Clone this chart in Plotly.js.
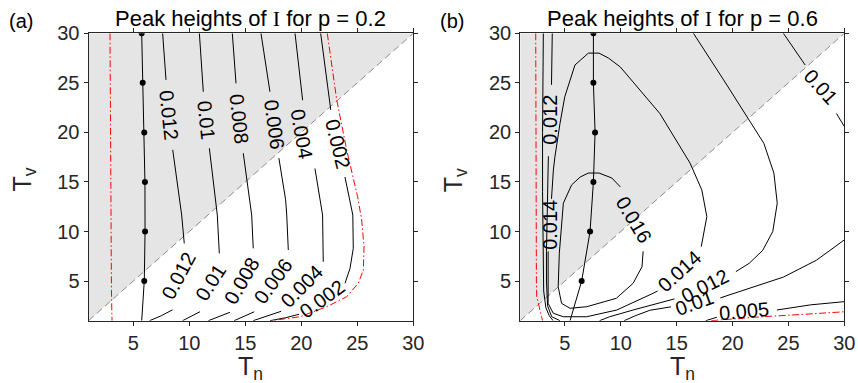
<!DOCTYPE html>
<html><head><meta charset="utf-8">
<script src="https://cdn.plot.ly/plotly-3.0.1.min.js"></script>
<style>html,body{margin:0;padding:0;background:#fff}</style>
</head><body><div id="chart" style="width:858px;height:383px"></div>
<script>
// ================= DATA =================
const tickVals = [5, 10, 15, 20, 25, 30];
const pValues = ['0.2', '0.6'];
const panelTags = ['(a)', '(b)'];

// shaded region Tv > Tn and diagonal
const grayX = [1, 1, 30, 1];
const grayY = [1, 30, 30, 1];
const diagX = [1, 30];
const diagY = [1, 30];

// ---------- panel (a), p = 0.2 ----------
const aOptX = [5.75, 5.84, 5.98, 6.04, 6.05, 5.98, 5.75];
const aOptY = [30, 25, 20, 15, 10, 5, 1];
const aDotX = [5.75, 5.84, 5.98, 6.04, 6.05, 5.98];
const aDotY = [30, 25, 20, 15, 10, 5];

const aRedLeftX = [2.92, 2.95, 3.0, 3.05, 3.1];
const aRedLeftY = [30, 20, 10, 4, 1];
const aRedRightX = [22.32, 23.16, 24.05, 25.03, 25.39, 25.6, 25.54, 25.09, 24.05, 22.27, 19.88, 17.3];
const aRedRightY = [30, 23.3, 18.24, 13.5, 11.17, 8.47, 6.12, 4.78, 3.42, 2.41, 1.4, 1];

const a012X = [7.62, 7.92, null, 8.52, 9.17, 9.32, 9.55, null, 8.5, 7.5, 6.45];
const a012Y = [30, 25.3, null, 18.24, 13.2, 11.66, 8.8, null, 2.1, 1.5, 1];
const a010X = [10.9, 11.25, null, 11.79, 12.3, 12.5, 12.68, null, 10.96, 9.4];
const a010Y = [30, 24.1, null, 18.4, 13.2, 11.66, 7.8, null, 1.91, 1];
const a008X = [13.84, 14.17, null, 14.82, 15.42, 15.57, 15.71, null, 13.63, 11.7];
const a008Y = [30, 24.95, null, 17.9, 13.2, 11.66, 8.3, null, 1.85, 1];
const a006X = [16.4, 17.2, null, 18.0, 18.6, 18.7, 18.84, null, 15.8, 14.0];
const a006Y = [30, 24.1, null, 17.4, 13.2, 11.66, 8.13, null, 1.9, 1];
const a004X = [19.44, 20.12, null, 21.22, 21.67, 21.9, 21.96, null, 18.2, 15.7];
const a004Y = [30, 23.25, null, 16.36, 13.2, 11.66, 6.95, null, 1.95, 1];
const a002X = [21.73, 22.63, null, 23.9, 24.6, 24.64, 24.35, 23.9, null, 19.8, 18.6, 17.2];
const a002Y = [30, 22.27, null, 15.5, 11.66, 8.3, 6.28, 4.77, null, 1.65, 1.3, 1];

const aLabText = ['0.012', '0.01', '0.008', '0.006', '0.004', '0.002',
                  '0.012', '0.01', '0.008', '0.006', '0.004', '0.002'];
const aLabX = [8.22, 11.52, 14.49, 17.6, 20.0, 23.27, 9.04, 11.85, 14.68, 17.5, 20.08, 21.85];
const aLabY = [21.7, 21.25, 21.4, 20.75, 19.8, 18.85, 5.48, 4.85, 5.0, 5.0, 4.46, 3.2];

// ---------- panel (b), p = 0.6 ----------
const bOptX = [7.55, 7.55, 7.7, 7.55, 7.25, 6.5, 5.46];
const bOptY = [30, 25, 20, 15, 10, 5, 1];
const bDotX = [7.55, 7.55, 7.7, 7.55, 7.25, 6.5];
const bDotY = [30, 25, 20, 15, 10, 5];

const bRedLeftX = [2.39, 2.39, 2.4, 2.45, 2.48, 2.77, 3.0];
const bRedLeftY = [30, 20, 10, 5, 3.42, 2.08, 1];
const bRedBottomX = [18.1, 22, 26, 30];
const bRedBottomY = [1, 1.35, 1.62, 1.9];

const b016X = [12.0, 11.9, 11.1, 9.6, 6.95, 5.46, 4.7, 4.4, 4.5, 4.86, 5.6, 6.37, 7.1, 8.05, 9.2, 9.96];
const b016Y = [8.0, 6.45, 4.77, 3.26, 2.41, 2.25, 2.75, 4.43, 7.8, 12.85, 14.7, 15.5, 15.9, 15.9, 15.4, 14.5];

const b014X = [3.5, 3.5, 3.5, 3.96, 4.86, 6.95, 9.64, 12.9, 13.3, null,
               17.2, 17.5, 17.7, 17.25, 16.2, 13.5, 11.72, 9.96, 8.9, 8.05, 7.1, 5.9, 4.99, 4.56, 4.1, 3.97, 3.8];
const b014Y = [8.0, 5.0, 2.75, 1.75, 1.4, 1.4, 2.08, 3.77, 4.0, null,
               8.47, 10.15, 11.5, 14.2, 16.9, 21.9, 24.28, 26.6, 27.5, 28.0, 28.0, 26.8, 23.6, 20.9, 17.5, 16.2, 13.3];

const b012X = [3.87, 3.8, null, 3.52, 3.42, 3.35, 3.35, 3.45, 3.82, 4.56, null,
               8.1, 9.0, 11.1, 13.2, 14.8, null,
               20.3, 21.5, 22.7, 23.6, 24.0, 23.7, 22.8, 21.3, 19.2, 16.5];
const b012Y = [30, 24.8, null, 17.6, 12.7, 8, 5, 2.5, 1.4, 1, null,
               1, 1.4, 2.08, 2.75, 3.2, null,
               5.95, 6.8, 8.1, 10.0, 12.85, 15.9, 18.9, 21.6, 25.3, 30];

const b010X = [3.07, 3.03, 3.0, 3.0, 3.03, 3.1, 3.3, 3.6, 3.95, null,
               10.3, 11.3, 12.6, 14.5, null,
               18.9, 21.5, 24.55, 27.5, 30, null,
               24.55, 26.5, null, 29.3, 30];
const b010Y = [30, 26, 20, 14, 8, 4, 2.3, 1.5, 1.0, null,
               1, 1.5, 2.05, 2.4, null,
               3.3, 4.3, 5.4, 7.1, 9.15, null,
               30, 26.8, null, 21.9, 20.6];

const b005X = [17.6, 18.6, null, 23.97, 27, 30];
const b005Y = [1, 1.35, null, 2.08, 2.6, 2.92];

const bLabText = ['0.012', '0.014', '0.016', '0.014', '0.012', '0.01', '0.005', '0.01'];
const bLabX = [3.6, 3.6, 11.2, 15.25, 17.5, 16.6, 21.0, 27.9];
const bLabY = [21.3, 10.7, 11.2, 6.05, 4.5, 2.8, 2.0, 24.55];

// ================= STYLE / LAYOUT =================
const W = 858, H = 383;
const AX = '#262626';
const FONT = 'Liberation Sans, Arial, Helvetica, sans-serif';
const aLabAngle = [84, 84, 84, 82, 80, 76, -62, -57, -60, -54, -45, -36];
const bLabAngle = [-90, -90, 59, -42, -27, -20, -5, 48];

const plotL = [88.5, 520.2], plotR = [413.3, 844.3];
const plotT = 33.3, plotB = 320.7;

function line(x, y, xa, ya, color, dash, width) {
  return {x: x, y: y, xaxis: xa, yaxis: ya, type: 'scatter', mode: 'lines',
          line: {color: color, width: width || 1, dash: dash || 'solid'},
          hoverinfo: 'skip', showlegend: false, connectgaps: false};
}
function dots(x, y, xa, ya) {
  return {x: x, y: y, xaxis: xa, yaxis: ya, type: 'scatter', mode: 'markers',
          marker: {color: '#000', size: 6}, hoverinfo: 'skip', showlegend: false};
}
function gray(xa, ya) {
  return {x: grayX, y: grayY, xaxis: xa, yaxis: ya, type: 'scatter', mode: 'lines',
          fill: 'toself', fillcolor: '#e5e5e5', line: {width: 0, color: 'rgba(0,0,0,0)'},
          hoverinfo: 'skip', showlegend: false};
}
const DASH = '7px,4px';
const DASHDOT = '7px,2.5px,1.5px,2.5px';
const RED = '#ff0000';

const traces = [
  gray('x', 'y'),
  line(diagX, diagY, 'x', 'y', '#8a8a8a', DASH),
  line(a012X, a012Y, 'x', 'y', '#000'),
  line(a010X, a010Y, 'x', 'y', '#000'),
  line(a008X, a008Y, 'x', 'y', '#000'),
  line(a006X, a006Y, 'x', 'y', '#000'),
  line(a004X, a004Y, 'x', 'y', '#000'),
  line(a002X, a002Y, 'x', 'y', '#000'),
  line(aRedLeftX, aRedLeftY, 'x', 'y', RED, DASHDOT),
  line(aRedRightX, aRedRightY, 'x', 'y', RED, DASHDOT),
  line(aOptX, aOptY, 'x', 'y', '#000'),
  dots(aDotX, aDotY, 'x', 'y'),

  gray('x2', 'y2'),
  line(diagX, diagY, 'x2', 'y2', '#8a8a8a', DASH),
  line(b016X, b016Y, 'x2', 'y2', '#000'),
  line(b014X, b014Y, 'x2', 'y2', '#000'),
  line(b012X, b012Y, 'x2', 'y2', '#000'),
  line(b010X, b010Y, 'x2', 'y2', '#000'),
  line(b005X, b005Y, 'x2', 'y2', '#000'),
  line(bRedLeftX, bRedLeftY, 'x2', 'y2', RED, DASHDOT),
  line(bRedBottomX, bRedBottomY, 'x2', 'y2', RED, DASHDOT),
  line(bOptX, bOptY, 'x2', 'y2', '#000'),
  dots(bDotX, bDotY, 'x2', 'y2')
];

function axis(dom, anchor) {
  return {domain: dom, anchor: anchor, range: [1, 30], tickvals: tickVals,
          ticks: 'outside', ticklen: 4, tickwidth: 1, tickcolor: AX,
          showline: true, linecolor: AX, linewidth: 1, mirror: 'ticks',
          showgrid: false, zeroline: false, fixedrange: true,
          tickfont: {family: FONT, size: 20, color: AX}};
}
const yDom = [(H - plotB) / H, (H - plotT) / H];

const ann = [];
aLabText.forEach((t, i) => ann.push({xref: 'x', yref: 'y', x: aLabX[i], y: aLabY[i], text: t,
  showarrow: false, textangle: aLabAngle[i], font: {family: FONT, size: 20, color: '#000'}}));
bLabText.forEach((t, i) => ann.push({xref: 'x2', yref: 'y2', x: bLabX[i], y: bLabY[i], text: t,
  showarrow: false, textangle: bLabAngle[i], font: {family: FONT, size: 20, color: '#000'}}));

for (let k = 0; k < 2; k++) {
  const cx = (plotL[k] + plotR[k]) / 2;
  ann.push({xref: 'paper', yref: 'paper', x: cx / W, y: (H - 18) / H, xanchor: 'center', yanchor: 'middle',
    showarrow: false,
    text: 'Peak heights of <span style="font-family:Liberation Serif,Times New Roman,serif">I</span> for p = ' + pValues[k],
    font: {family: FONT, size: 22, color: '#000'}});
  ann.push({xref: 'paper', yref: 'paper', x: cx / W, y: (H - 368) / H, xanchor: 'center', yanchor: 'middle',
    showarrow: false, text: 'T<sub>n</sub>', font: {family: FONT, size: 25, color: AX}});
  ann.push({xref: 'paper', yref: 'paper', x: (plotL[k] - 65) / W, y: (H - 180) / H, xanchor: 'center', yanchor: 'middle',
    showarrow: false, textangle: -90, text: 'T<sub>v</sub>', font: {family: FONT, size: 25, color: AX}});
  ann.push({xref: 'paper', yref: 'paper', x: (plotL[k] - 68) / W, y: (H - 21) / H, xanchor: 'center', yanchor: 'middle',
    showarrow: false, text: panelTags[k], font: {family: FONT, size: 20, color: '#000'}});
}

const layout = {
  width: W, height: H, margin: {l: 0, r: 0, t: 0, b: 0},
  paper_bgcolor: '#fff', plot_bgcolor: '#fff', showlegend: false,
  xaxis: axis([plotL[0] / W, plotR[0] / W], 'y'),
  yaxis: axis(yDom, 'x'),
  xaxis2: axis([plotL[1] / W, plotR[1] / W], 'y2'),
  yaxis2: axis(yDom, 'x2'),
  annotations: ann
};
Plotly.newPlot('chart', traces, layout, {displayModeBar: false, staticPlot: true});
</script></body></html>
